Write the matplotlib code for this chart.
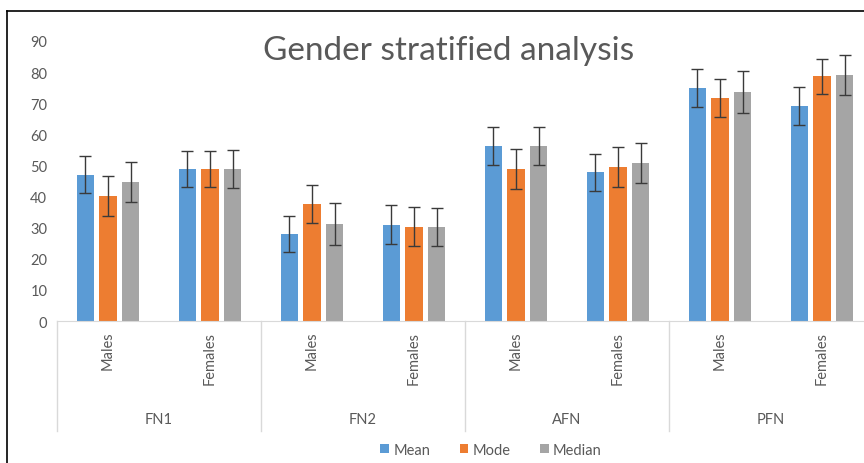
import matplotlib
matplotlib.use("Agg")
import matplotlib.pyplot as plt
import matplotlib.transforms as mtransforms
from matplotlib.lines import Line2D
import numpy as np

plt.rcParams['font.family'] = ['Lato', 'DejaVu Sans']

# data
groups = ["FN1", "FN2", "AFN", "PFN"]
genders = ["Males", "Females"]
series = ["Mean", "Mode", "Median"]

mean_vals = [47.0, 48.9, 28.0, 31.0, 56.2, 47.8, 74.9, 69.1]
mode_vals = [40.2, 48.9, 37.6, 30.3, 48.9, 49.5, 71.7, 78.6]
median_vals = [44.7, 48.9, 31.2, 30.2, 56.2, 50.8, 73.7, 79.1]

mean_err = [6.0, 5.8, 5.8, 6.3, 6.2, 5.9, 6.1, 6.1]
mode_err = [6.4, 5.8, 6.1, 6.3, 6.4, 6.4, 6.1, 5.6]
median_err = [6.3, 6.0, 6.8, 6.2, 6.2, 6.4, 6.7, 6.5]

colors = ["#5B9BD5", "#ED7D31", "#A5A5A5"]
text_grey = "#595959"

fig = plt.figure(figsize=(8.64, 4.64), dpi=100)
W, H = 864, 464
# plot area: x 57..873 px, y 42..322 px
ax = fig.add_axes([57 / W, (H - 322) / H, 816 / W, 280 / H])

x = np.arange(len(mean_vals)) + 0.5
width = 0.167
step = 0.225
for i, (vals, errs) in enumerate([(mean_vals, mean_err), (mode_vals, mode_err), (median_vals, median_err)]):
    ax.bar(x + (i - 1) * step, vals, width, color=colors[i], label=series[i], zorder=2)
    ax.errorbar(x + (i - 1) * step, vals, yerr=errs, fmt='none', ecolor="#3a3a3a",
                elinewidth=1, capsize=4, capthick=1, zorder=3)

ax.set_xlim(0, len(mean_vals))
ax.set_ylim(0, 90)
ax.set_yticks(range(0, 91, 10))
ax.tick_params(axis='y', length=0, labelsize=10.5, labelcolor=text_grey, pad=7)
ax.set_xticks([])
for s in ['top', 'right', 'left']:
    ax.spines[s].set_visible(False)
ax.spines['bottom'].set_color("#D9D9D9")

# category axis: gender labels, group labels and separators
trans = mtransforms.blended_transform_factory(ax.transData, ax.transAxes)
for k, xc in enumerate(x):
    ax.text(xc, -0.035, genders[k % 2], rotation=90, ha='center', va='top',
            fontsize=10.5, color=text_grey, transform=trans)
for g, name in enumerate(groups):
    ax.text(2 * g + 1, -0.35, name, ha='center', va='center', fontsize=10.5,
            color=text_grey, transform=trans)
for g in range(len(groups) + 1):
    ax.plot([2 * g, 2 * g], [0, -0.393], color="#D9D9D9", lw=1,
            transform=trans, clip_on=False)

fig.text(449 / W, 1 - 51 / H, "Gender stratified analysis", ha='center', va='center',
         fontsize=24, color=text_grey)

fig.legend(loc='center', bbox_to_anchor=(491 / W, 1 - 451 / H), ncol=3, frameon=False,
           fontsize=10.5, handlelength=0.6, handleheight=0.6, handletextpad=0.3,
           columnspacing=2.0, labelcolor=text_grey)

# outer chart border (right and bottom cropped in the reference)
fig.add_artist(Line2D([7 / W, 1], [1 - 12 / H, 1 - 12 / H], color='black', lw=1.2))
fig.add_artist(Line2D([7 / W, 7 / W], [0, 1 - 12 / H], color='black', lw=1.2))

fig.savefig("out.png", dpi=100)
